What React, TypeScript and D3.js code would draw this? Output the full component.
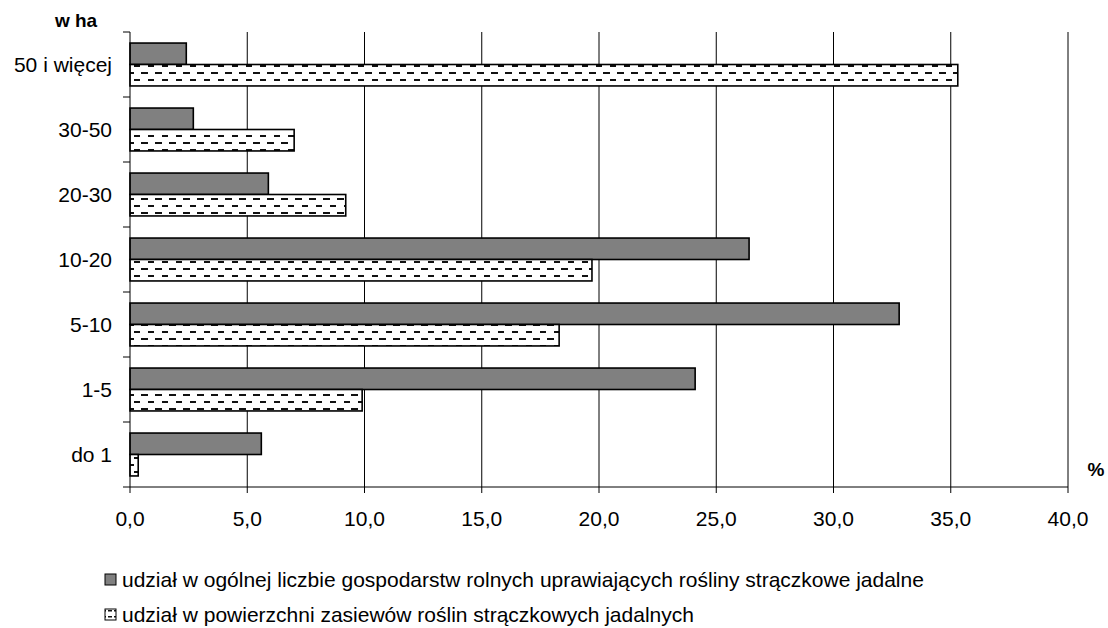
import React from "react";
import * as d3 from "d3";

const categories = ["50 i więcej", "30-50", "20-30", "10-20", "5-10", "1-5", "do 1"];
const farmsShare = [2.4, 2.7, 5.9, 26.4, 32.8, 24.1, 5.6];
const areaShare = [35.3, 7.0, 9.2, 19.7, 18.3, 9.9, 0.35];
const xTicks = [0, 5, 10, 15, 20, 25, 30, 35, 40];
const seriesNames = [
  "udział w ogólnej liczbie gospodarstw rolnych uprawiających rośliny strączkowe jadalne",
  "udział w powierzchni zasiewów roślin strączkowych jadalnych",
];

const W = 1108;
const H = 628;
const left = 130;
const right = 1068;
const top = 32;
const bottom = 487;
const font = "'Liberation Sans', Arial, sans-serif";
const fs = 21;

export default function App() {
  const x = d3.scaleLinear().domain([0, 40]).range([left, right]);
  const y = d3
    .scaleBand<string>()
    .domain(categories)
    .range([top, bottom])
    .paddingInner(0.34)
    .paddingOuter(0.17);
  const sub = d3.scaleBand<number>().domain([0, 1]).range([0, y.bandwidth()]);
  const step = y.step();
  const fmt = (v: number) => v.toFixed(1).replace(".", ",");

  return (
    <svg
      width={W}
      height={H}
      style={{ position: "absolute", left: 0, top: 0, background: "#fff" }}
      fontFamily={font}
    >
      <defs>
        <pattern id="dash" patternUnits="userSpaceOnUse" width="14" height="14" x="0" y="0">
          <rect width="14" height="14" fill="#fff" />
          <rect x="1" y="2" width="7" height="2" fill="#111" />
          <rect x="8" y="9" width="7" height="2" fill="#111" />
        </pattern>
        <pattern id="dashLegend" patternUnits="userSpaceOnUse" width="6" height="6">
          <rect width="6" height="6" fill="#fff" />
          <rect x="0" y="1" width="4" height="1.5" fill="#111" />
        </pattern>
      </defs>

      {/* gridlines */}
      {xTicks.slice(1).map((t) => (
        <line key={"g" + t} x1={x(t)} x2={x(t)} y1={top} y2={bottom} stroke="#000" strokeWidth={1} />
      ))}

      {/* bars */}
      {categories.map((c, i) => (
        <g key={c}>
          <rect
            x={x(0)}
            y={(y(c) as number) + (sub(0) as number)}
            width={x(farmsShare[i]) - x(0)}
            height={sub.bandwidth()}
            fill="#808080"
            stroke="#000"
            strokeWidth={1.6}
          />
          <rect
            x={x(0)}
            y={(y(c) as number) + (sub(1) as number)}
            width={x(areaShare[i]) - x(0)}
            height={sub.bandwidth()}
            fill="url(#dash)"
            stroke="#000"
            strokeWidth={1.6}
          />
        </g>
      ))}

      {/* axes */}
      <line x1={left} x2={left} y1={top} y2={bottom} stroke="#000" strokeWidth={1} />
      <line x1={left} x2={right} y1={bottom} y2={bottom} stroke="#000" strokeWidth={1} />
      {d3.range(categories.length + 1).map((k) => (
        <line key={"yt" + k} x1={left - 7} x2={left} y1={top + k * step} y2={top + k * step} stroke="#000" />
      ))}
      {xTicks.map((t) => (
        <g key={"xt" + t}>
          <line x1={x(t)} x2={x(t)} y1={bottom} y2={bottom + 6} stroke="#000" />
          <text x={x(t)} y={526} fontSize={fs} textAnchor="middle" fill="#000">
            {fmt(t)}
          </text>
        </g>
      ))}
      {categories.map((c) => (
        <text
          key={"yl" + c}
          x={112}
          y={(y(c) as number) + y.bandwidth() / 2}
          dy="0.35em"
          fontSize={fs}
          textAnchor="end"
          fill="#000"
        >
          {c}
        </text>
      ))}
      <text x={76} y={27} fontSize={19} fontWeight="bold" textAnchor="middle" fill="#000">
        w ha
      </text>
      <text x={1096} y={476} fontSize={19} fontWeight="bold" textAnchor="middle" fill="#000">
        %
      </text>

      {/* legend */}
      {seriesNames.map((s, i) => (
        <g key={"lg" + i} transform={`translate(0, ${580 + i * 35})`}>
          <rect
            x={105}
            y={-6}
            width={11}
            height={11}
            fill={i === 0 ? "#808080" : "url(#dashLegend)"}
            stroke="#000"
            strokeWidth={1}
          />
          <text x={122} y={0} dy="0.35em" fontSize={fs} fill="#000">
            {s}
          </text>
        </g>
      ))}
    </svg>
  );
}
